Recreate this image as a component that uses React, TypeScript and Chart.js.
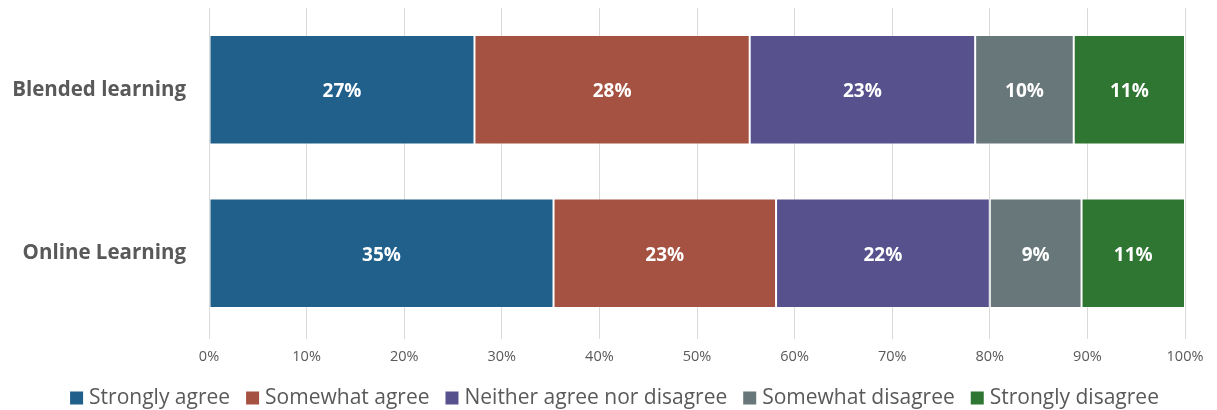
import React, { useEffect, useRef } from "react";
import { Chart, registerables } from "chart.js";

Chart.register(...registerables);

const categories = ["Blended learning", "Online Learning"];
const seriesNames = [
  "Strongly agree",
  "Somewhat agree",
  "Neither agree nor disagree",
  "Somewhat disagree",
  "Strongly disagree",
];
const stronglyAgree = [27.2, 35.3];
const somewhatAgree = [28.2, 22.8];
const neither = [23.1, 21.9];
const somewhatDisagree = [10.1, 9.4];
const stronglyDisagree = [11.4, 10.6];
const seriesColors = ["#21608B", "#A65243", "#57528D", "#68777A", "#2E7631"];
const xTicks = [0, 10, 20, 30, 40, 50, 60, 70, 80, 90, 100];

const FONT = "'Open Sans', Lato, sans-serif";
const GREY = "#595959";

const labelPlugin = {
  id: "segLabels",
  afterDatasetsDraw(chart: any) {
    const ctx = chart.ctx;
    ctx.save();
    ctx.fillStyle = "#ffffff";
    ctx.font = `bold 19px ${FONT}`;
    ctx.textAlign = "center";
    ctx.textBaseline = "middle";
    chart.data.datasets.forEach((ds: any, di: number) => {
      const meta = chart.getDatasetMeta(di);
      meta.data.forEach((bar: any, i: number) => {
        const v = ds.data[i];
        const cx = (bar.x + bar.base) / 2;
        ctx.fillText(Math.round(v) + "%", cx, bar.y + 2);
      });
    });
    ctx.restore();
  },
};

const legendPlugin = {
  id: "customLegend",
  afterDraw(chart: any) {
    const ctx = chart.ctx;
    ctx.save();
    ctx.font = `21px ${FONT}`;
    ctx.textBaseline = "middle";
    ctx.textAlign = "left";
    const box = 13;
    const gapBoxText = 6;
    const gapItems = 16;
    const widths = seriesNames.map((n) => box + gapBoxText + ctx.measureText(n).width);
    const total = widths.reduce((a, b) => a + b, 0) + gapItems * (widths.length - 1);
    let x = (chart.width - total) / 2 + 6;
    const y = 398;
    seriesNames.forEach((n, i) => {
      ctx.fillStyle = seriesColors[i];
      ctx.fillRect(x, y - box / 2, box, box);
      ctx.fillStyle = GREY;
      ctx.fillText(n, x + box + gapBoxText, y);
      x += widths[i] + gapItems;
    });
    ctx.restore();
  },
};

export default function App() {
  const ref = useRef<HTMLCanvasElement | null>(null);
  useEffect(() => {
    if (!ref.current) return;
    const values = [stronglyAgree, somewhatAgree, neither, somewhatDisagree, stronglyDisagree];
    const chart = new Chart(ref.current, {
      type: "bar",
      data: {
        labels: categories,
        datasets: seriesNames.map((name, i) => ({
          label: name,
          data: values[i],
          backgroundColor: seriesColors[i],
          borderColor: "rgba(255,255,255,0.3)",
          borderWidth: 1,
          borderSkipped: false,
          barPercentage: 0.67,
          categoryPercentage: 1,
        })),
      },
      options: {
        indexAxis: "y",
        animation: false,
        responsive: true,
        maintainAspectRatio: false,
        layout: { padding: { top: 8, right: 32, bottom: 42, left: 0 } },
        plugins: {
          legend: { display: false },
          tooltip: { enabled: false },
        },
        scales: {
          x: {
            stacked: true,
            min: 0,
            max: 100,
            afterBuildTicks: (scale: any) => {
              scale.ticks = xTicks.map((v) => ({ value: v }));
            },
            afterFit: (scale: any) => {
              scale.height = 33;
              scale.paddingLeft = 0;
              scale.paddingRight = 0;
            },
            grid: { color: "#D9D9D9", lineWidth: 1, drawTicks: true, tickLength: 4 },
            border: { display: false },
            ticks: {
              color: GREY,
              font: { family: FONT, size: 14.5 },
              padding: 9,
              callback: (v: any) => v + "%",
            },
          },
          y: {
            stacked: true,
            afterFit: (scale: any) => {
              scale.width = 209;
              scale.paddingTop = 0;
              scale.paddingBottom = 0;
            },
            grid: { display: false, drawTicks: false },
            border: { display: false },
            ticks: {
              color: GREY,
              font: { family: FONT, size: 20.5, weight: "bold" },
              padding: 23,
            },
          },
        },
      },
      plugins: [labelPlugin, legendPlugin],
    });
    return () => chart.destroy();
  }, []);
  return (
    <div style={{ position: "fixed", left: 0, top: 0, width: 1217, height: 410, background: "#fff" }}>
      <canvas ref={ref} />
    </div>
  );
}
